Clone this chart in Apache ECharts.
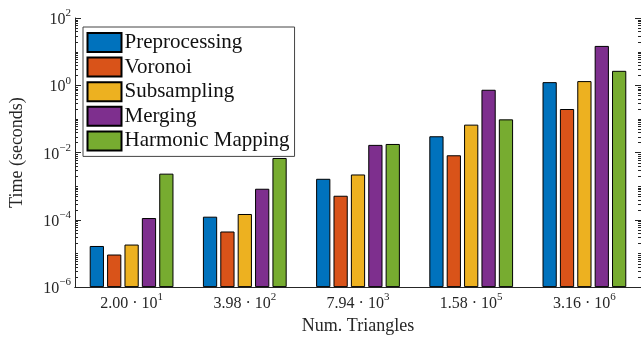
<!DOCTYPE html>
<html><head><meta charset="utf-8">
<script src="https://cdn.jsdelivr.net/npm/echarts@6/dist/echarts.min.js"></script>
<style>html,body{margin:0;padding:0;background:#fff}#c{width:641px;height:340px}</style>
</head><body><div id="c"></div>
<script>
// Category tick labels: mantissa · 10^exponent
const catMantissa = ['2.00', '3.98', '7.94', '1.58', '3.16'];
const catExponent = [1, 2, 3, 5, 6];
const seriesNames = ['Preprocessing', 'Voronoi', 'Subsampling', 'Merging', 'Harmonic Mapping'];
// Times in seconds
const preprocessing = [1.67e-5, 1.24e-4, 1.66e-3, 3.05e-2, 1.24];
const voronoi       = [9.3e-6, 4.5e-5, 5.2e-4, 8.3e-3, 0.197];
const subsampling   = [1.84e-5, 1.49e-4, 2.23e-3, 6.76e-2, 1.33];
const merging       = [1.13e-4, 8.4e-4, 1.69e-2, 0.736, 14.8];
const harmonic      = [2.36e-3, 6.9e-3, 1.8e-2, 9.7e-2, 2.69];
// y tick labels (powers of ten)
const yTickExponents = [-6, -4, -2, 0, 2];
const colors = ['#0072BD', '#D95319', '#EDB120', '#7E2F8E', '#77AC30'];

const yMinExp = yTickExponents[0], yMaxExp = yTickExponents[yTickExponents.length - 1];
const toAxis = v => Math.log10(v) - yMinExp;
const allSeries = [preprocessing, voronoi, subsampling, merging, harmonic];
const categories = catMantissa.map((m, i) => m + '|' + catExponent[i]);
const FONT = 'Liberation Serif';
const INK = '#262626';
const sup = s => String(s).replace('-', '\u2212');

// minor log ticks (axis decoration)
const minorTicks = [];
for (let k = yMinExp; k < yMaxExp; k++) {
  for (let m = 2; m <= 9; m++) minorTicks.push([0, toAxis(m * Math.pow(10, k)), 3]);
  if (!yTickExponents.includes(k)) minorTicks.push([0, k - yMinExp, 3]);
}

const richX = {
  b: {fontFamily: FONT, fontSize: 16, color: INK, lineHeight: 20, verticalAlign: 'bottom'},
  s: {fontFamily: FONT, fontSize: 11, color: INK, lineHeight: 11, verticalAlign: 'top'}
};

const chart = echarts.init(document.getElementById('c'), null, {renderer: 'canvas'});
const barSeries = allSeries.map((arr, i) => ({
  name: seriesNames[i],
  type: 'bar',
  data: arr.map(toAxis),
  barCategoryGap: '26%',
  barGap: '22%',
  itemStyle: {color: colors[i], borderColor: '#000', borderWidth: 1},
  emphasis: {disabled: true}
}));

chart.setOption({
  animation: false,
  color: colors,
  grid: {left: 73, top: 18, width: 571, bottom: 52},
  legend: {
    data: seriesNames, orient: 'vertical', left: 83, top: 27,
    itemWidth: 34, itemHeight: 19, itemGap: 3.6, icon: 'rect',
    padding: [5, 5, 5, 3.5],
    borderColor: '#444', borderWidth: 1, backgroundColor: '#fff',
    textStyle: {fontFamily: FONT, fontSize: 21, color: '#111', padding: [0, 0, 0, -2]}
  },
  xAxis: [{
    type: 'category', data: categories, position: 'bottom',
    name: 'Num. Triangles', nameLocation: 'middle', nameGap: 28,
    nameTextStyle: {fontFamily: FONT, fontSize: 18, color: INK},
    axisLine: {lineStyle: {color: INK, width: 1}},
    axisTick: {inside: true, length: 6, alignWithLabel: true, lineStyle: {color: INK}},
    axisLabel: {
      interval: 0, margin: 5, rich: richX,
      formatter: v => { const p = v.split('|'); return '{b|' + p[0] + ' \u00b7 10}{s|' + sup(p[1]) + '}'; }
    }
  }, {
    type: 'category', data: categories, position: 'top',
    axisLine: {lineStyle: {color: INK, width: 1}},
    axisTick: {inside: true, length: 6, alignWithLabel: true, lineStyle: {color: INK}},
    axisLabel: {show: false}
  }],
  yAxis: [{
    type: 'value', min: 0, max: yMaxExp - yMinExp, interval: 2,
    name: 'Time (seconds)', nameLocation: 'middle', nameGap: 49,
    nameTextStyle: {fontFamily: FONT, fontSize: 18, color: INK},
    axisLine: {show: true, lineStyle: {color: INK, width: 1}},
    axisTick: {show: true, inside: true, length: 6, lineStyle: {color: INK}},
    splitLine: {show: false},
    axisLabel: {
      margin: 4, rich: richX,
      formatter: v => '{b|10}{s|' + sup(Math.round(v) + yMinExp) + '}'
    }
  }, {
    type: 'value', min: 0, max: yMaxExp - yMinExp, interval: 2, position: 'right',
    axisLine: {show: true, lineStyle: {color: INK, width: 1}},
    axisTick: {show: true, inside: true, length: 6, lineStyle: {color: INK}},
    splitLine: {show: false}, axisLabel: {show: false}
  }],
  series: barSeries.concat([{
    type: 'custom', silent: true, z: 5,
    data: minorTicks,
    encode: {x: 0, y: 1},
    renderItem: (params, api) => {
      const cs = params.coordSys;
      const y = Math.round(api.coord([0, api.value(1)])[1]) + 0.5;
      const len = api.value(2);
      return {type: 'group', children: [
        {type: 'line', shape: {x1: cs.x, y1: y, x2: cs.x + len, y2: y}, style: {stroke: INK, lineWidth: 1}},
        {type: 'line', shape: {x1: cs.x + cs.width, y1: y, x2: cs.x + cs.width - len, y2: y}, style: {stroke: INK, lineWidth: 1}}
      ]};
    }
  }])
});
</script>
</body></html>
